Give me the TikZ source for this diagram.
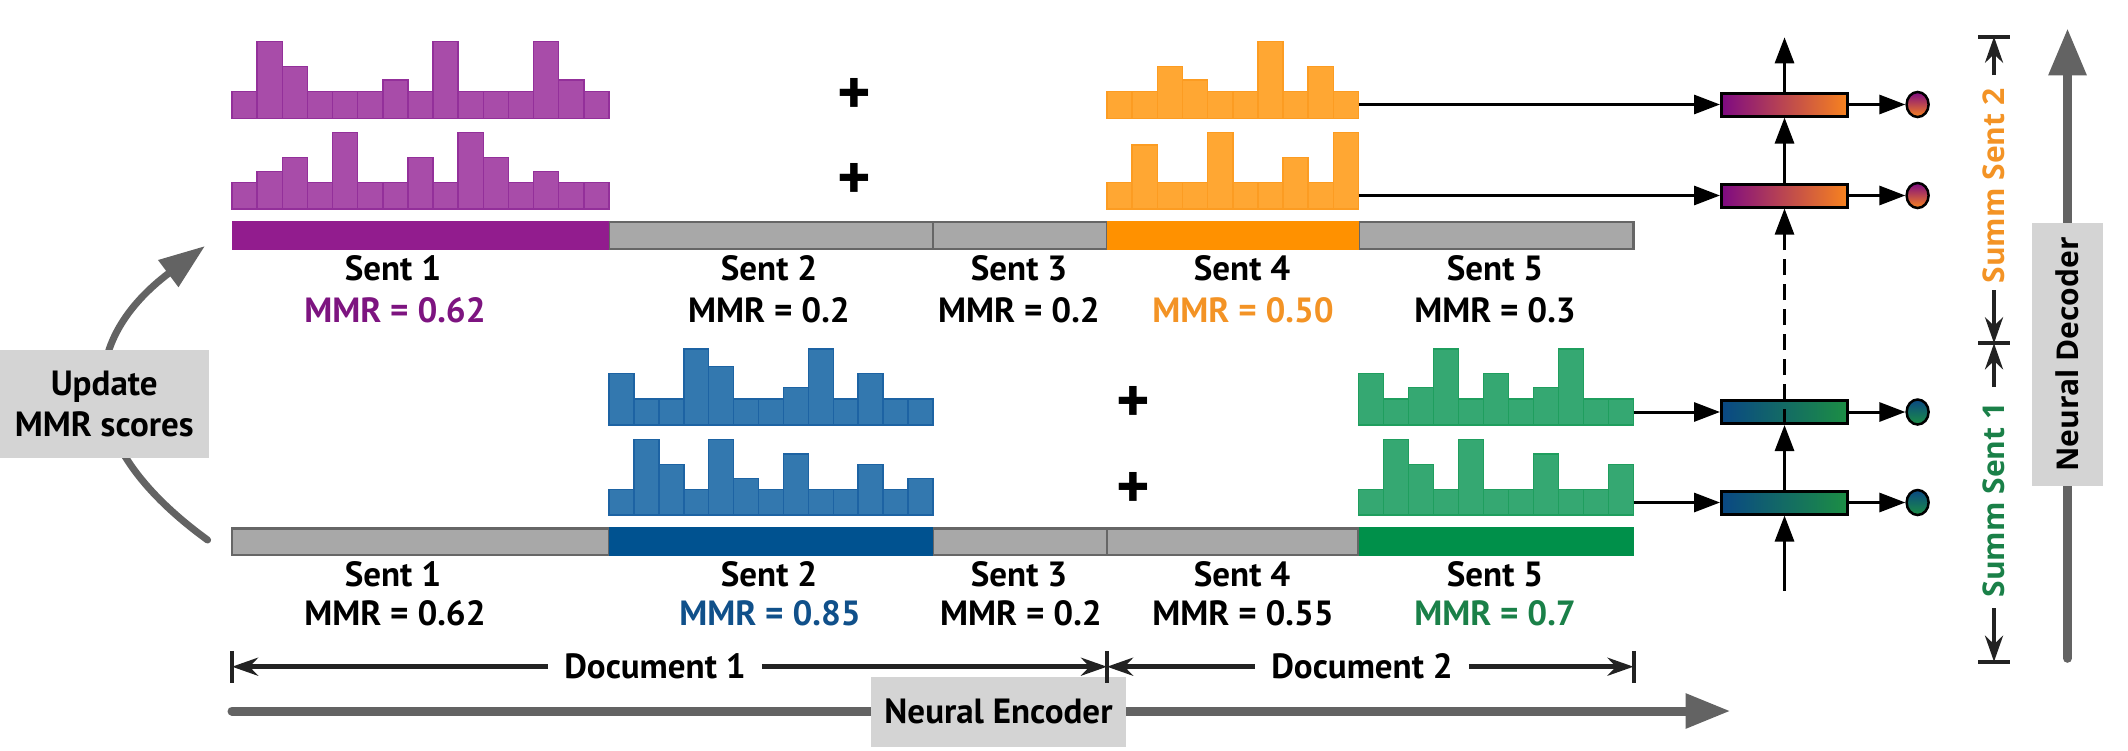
\documentclass[tikz,border=0pt]{standalone}
\usepackage{fontspec}
\setmainfont{PT Sans}
\newfontfamily\widef{Open Sans}
\usetikzlibrary{arrows.meta,shapes.geometric}
\definecolor{histP}{HTML}{A84CA9}
\definecolor{histPd}{HTML}{93309A}
\definecolor{barP}{HTML}{921C8E}
\definecolor{txtP}{HTML}{7D1480}
\definecolor{histO}{HTML}{FFA733}
\definecolor{histOd}{HTML}{FC9C22}
\definecolor{barO}{HTML}{FF9100}
\definecolor{txtO}{HTML}{F39325}
\definecolor{histB}{HTML}{3378AF}
\definecolor{histBd}{HTML}{1D63A3}
\definecolor{barB}{HTML}{005290}
\definecolor{txtB}{HTML}{10508A}
\definecolor{histG}{HTML}{35A872}
\definecolor{histGd}{HTML}{1F9E5E}
\definecolor{barG}{HTML}{00904A}
\definecolor{txtG}{HTML}{1A8048}
\definecolor{grayfill}{HTML}{A8A8A8}
\definecolor{grayline}{HTML}{666666}
\definecolor{boxgray}{HTML}{D4D4D4}
\definecolor{arrgray}{HTML}{636363}
\definecolor{decP}{HTML}{7E0A82}
\definecolor{decO}{HTML}{F8831E}
\definecolor{decB}{HTML}{0A4884}
\definecolor{decG}{HTML}{1C8E44}
\definecolor{darkline}{HTML}{222222}
\newcommand\drawhist[5]{%
  \foreach \h [count=\i from 0] in {#5} {%
    \draw[#4] ({#1+\i*#3},#2) rectangle ({#1+(\i+1)*#3},{#2-\h});
  }%
}
\begin{document}
\begin{tikzpicture}[x=1pt,y=-1pt,
  lbl/.style={font=\fontsize{35}{40}\selectfont\bfseries, inner sep=0pt},
  plus/.style={font=\fontsize{64}{64}\selectfont\bfseries, inner sep=0pt},
  summ/.style={font=\widef\fontsize{30}{36}\selectfont\bfseries, inner sep=0pt, rotate=90},
  graybox/.style={fill=boxgray, inner sep=0pt, align=center},
  hP/.style={fill=histP, draw=histPd, line width=1.5pt},
  hO/.style={fill=histO, draw=histOd, line width=1.5pt},
  hB/.style={fill=histB, draw=histBd, line width=1.5pt},
  hG/.style={fill=histG, draw=histGd, line width=1.5pt},
  graybar/.style={fill=grayfill, draw=grayline, line width=2.5pt},
  decbox/.style={draw=black, line width=3pt, minimum width=126pt, minimum height=23pt, inner sep=0pt},
  decdot/.style={ellipse, draw=black, line width=2.5pt, minimum width=22pt, minimum height=25pt, inner sep=0pt},
  arr/.style={line width=3pt, -{Triangle[length=26pt,width=19pt]}},
  dimarr/.style={line width=4pt, draw=darkline, -{Stealth[length=26pt,width=18pt]}},
  tickline/.style={line width=4pt, draw=darkline},
  garrow/.style={draw=arrgray, line cap=round},
]
\useasboundingbox (0,0) rectangle (2128,750);

% ---------- histograms, upper row ----------
\drawhist{232}{118.3}{25.133}{hP}{26.7,76.7,51.7,26.7,26.7,26.7,38.3,26.7,76.7,26.7,26.7,26.7,76.7,38.3,26.7}
\drawhist{232}{209}{25.133}{hP}{26.3,37.3,51.7,26.3,76.3,26.3,26.3,51.7,26.3,76.3,51.7,26.3,37.3,26.3,26.3}
\drawhist{1107}{118.3}{25.15}{hO}{26.7,26.7,51.7,38.3,26.7,26.7,76.7,26.7,51.7,26.7}
\drawhist{1107}{209}{25.15}{hO}{26.3,64,26.3,26.3,76.3,26.3,26.3,51.7,26.3,76.3}
% ---------- histograms, lower row ----------
\drawhist{609}{425}{24.923}{hB}{51.7,26,26,76,58.3,26,26,37.7,76,26,51.7,26,26}
\drawhist{609}{515}{24.923}{hB}{25.7,75.7,50.7,25.7,75.7,36.7,25.7,61,25.7,25.7,50.7,25.7,36.7}
\drawhist{1358.5}{425}{25}{hG}{51.7,26,37.7,76,26,51.7,26,37.7,76,26,26}
\drawhist{1358.5}{515}{25}{hG}{25.7,75.7,50.7,25.7,75.7,25.7,25.7,61,25.7,25.7,50.7}

% ---------- plus signs ----------
\node[plus] (p1) at (854,96.7) {+};
\node[plus] (p2) at (854,181.7) {+};
\node[plus] (p3) at (1133,404) {+};
\node[plus] (p4) at (1133,490.7) {+};

% ---------- sentence bars ----------
\draw[graybar] (609,222) rectangle (933,249);
\draw[graybar] (933,222) rectangle (1107,249);
\draw[graybar] (1358.5,222) rectangle (1633.5,249);
\fill[barP] (232,220.8) rectangle (609,250.2);
\fill[barO] (1107,220.8) rectangle (1358.5,250.2);

\draw[graybar] (232,528.3) rectangle (609,555);
\draw[graybar] (933,528.3) rectangle (1107,555);
\draw[graybar] (1107,528.3) rectangle (1358.5,555);
\fill[barB] (609,527.1) rectangle (933,556.2);
\fill[barG] (1358.5,527.1) rectangle (1633.5,556.2);

% ---------- labels ----------
\node[lbl] (su1) at (393,268) {Sent 1};
\node[lbl] (su2) at (769,268) {Sent 2};
\node[lbl] (su3) at (1019,268) {Sent 3};
\node[lbl] (su4) at (1242,268) {Sent 4};
\node[lbl] (su5) at (1495,268) {Sent 5};
\node[lbl, text=txtP] (mu1) at (395,310) {MMR = 0.62};
\node[lbl] (mu2) at (769,310) {MMR = 0.2};
\node[lbl] (mu3) at (1019,310) {MMR = 0.2};
\node[lbl, text=txtO] (mu4) at (1243,310) {MMR = 0.50};
\node[lbl] (mu5) at (1495,310) {MMR = 0.3};

\node[lbl] (sl1) at (393,574) {Sent 1};
\node[lbl] (sl2) at (769,574) {Sent 2};
\node[lbl] (sl3) at (1019,574) {Sent 3};
\node[lbl] (sl4) at (1242,574) {Sent 4};
\node[lbl] (sl5) at (1495,574) {Sent 5};
\node[lbl] (ml1) at (395,613) {MMR = 0.62};
\node[lbl, text=txtB] (ml2) at (770,613) {MMR = 0.85};
\node[lbl] (ml3) at (1021,613) {MMR = 0.2};
\node[lbl] (ml4) at (1243,613) {MMR = 0.55};
\node[lbl, text=txtG] (ml5) at (1495,613) {MMR = 0.7};

% ---------- update MMR loop ----------
\coordinate (cs) at (207.6,540);
\coordinate (ce) at (205,246);
\draw[garrow, line width=7pt, -{Triangle[length=46pt,width=32pt]}]
  (cs) .. controls (70,440) and (80,340) .. (ce);
\node[graybox, lbl, minimum width=208.5pt, minimum height=107.7pt,
      font=\fontsize{35}{41}\selectfont\bfseries] (upd) at (104.25,403.85) {Update\\MMR scores};

% ---------- neural encoder ----------
\coordinate (encS) at (232,711);
\coordinate (encE) at (1730.5,711);
\draw[garrow, line width=9pt, -{Triangle[length=45pt,width=33pt]}] (encS) -- (encE);
\node[graybox, lbl, minimum width=255pt, minimum height=70pt] (enc) at (998.5,711.7) {Neural Encoder};

% ---------- document spans ----------
\coordinate (dk0) at (232,666.7);
\coordinate (dk1) at (1107,666.7);
\coordinate (dk2) at (1633.5,666.7);
\foreach \k in {dk0,dk1,dk2} {
  \draw[tickline] ([yshift=15.8pt]\k) -- ([yshift=-15.8pt]\k);
}
\node[lbl, inner xsep=16pt] (doc1) at (655,666.7) {Document 1};
\node[lbl, inner xsep=16pt] (doc2) at (1362,666.7) {Document 2};
\draw[dimarr, line width=5pt] (doc1.west) -- (dk0);
\draw[dimarr, line width=5pt] (doc1.east) -- (dk1);
\draw[dimarr, line width=5pt] (doc2.west) -- (dk1);
\draw[dimarr, line width=5pt] (doc2.east) -- (dk2);

% ---------- decoder cells ----------
\coordinate (oT) at (1358.5,104.5);
\coordinate (oB) at (1358.5,195.5);
\coordinate (gT) at (1633.5,412);
\coordinate (gB) at (1633.5,502.5);
\node[decbox, left color=decP, right color=decO] (d1) at (1784.5,104.5) {};
\node[decbox, left color=decP, right color=decO] (d2) at (1784.5,195.5) {};
\node[decbox, left color=decB, right color=decG] (d3) at (1784.5,412) {};
\node[decbox, left color=decB, right color=decG] (d4) at (1784.5,502.5) {};
\node[decdot, top color=decP, bottom color=decO] (e1) at (1917.6,104.5) {};
\node[decdot, top color=decP, bottom color=decO] (e2) at (1917.6,195.5) {};
\node[decdot, top color=decB, bottom color=decG] (e3) at (1917.6,412) {};
\node[decdot, top color=decB, bottom color=decG] (e4) at (1917.6,502.5) {};
\coordinate (topOut) at (1784.5,37.3);
\coordinate (botIn) at (1784.5,590.7);

\draw[arr] (oT) -- (d1.west);
\draw[arr] (oB) -- (d2.west);
\draw[arr] (gT) -- (d3.west);
\draw[arr] (gB) -- (d4.west);
\draw[arr] (d1.east) -- (e1.west);
\draw[arr] (d2.east) -- (e2.west);
\draw[arr] (d3.east) -- (e3.west);
\draw[arr] (d4.east) -- (e4.west);
\draw[arr] (d1.north) -- (topOut);
\draw[arr] (d2.north) -- (d1.south);
\draw[arr] (d4.north) -- (d3.south);
\draw[arr] (botIn) -- (d4.south);
\draw[arr, dash pattern=on 16pt off 9pt, line width=2.5pt] (d3.south) -- (d2.south);

% ---------- summary brackets ----------
\coordinate (t0) at (1994,36.7);
\coordinate (t1) at (1994,343.3);
\coordinate (t2) at (1994,661.7);
\foreach \k in {t0,t1,t2} {
  \draw[tickline] ([xshift=-16pt]\k) -- ([xshift=16pt]\k);
}
\node[summ, text=txtO] (ss2) at (1994,186) {Summ Sent 2};
\node[summ, text=txtG] (ss1) at (1994,500) {Summ Sent 1};
\coordinate (b0) at (1994,75);
\coordinate (b1) at (1994,290);
\coordinate (b2) at (1994,387);
\coordinate (b3) at (1994,608);
\draw[dimarr] (b0) -- (t0);
\draw[dimarr] (b1) -- (t1);
\draw[dimarr] (b2) -- (t1);
\draw[dimarr] (b3) -- (t2);

% ---------- neural decoder ----------
\coordinate (decS) at (2067.5,658.3);
\coordinate (decE) at (2067.5,28.3);
\draw[garrow, line width=9pt, -{Triangle[length=47pt,width=36pt]}] (decS) -- (decE);
\node[graybox, minimum width=71pt, minimum height=263.3pt] (dec) at (2067.5,354.4) {};
\node[summ, text=black] (dect) at (dec.center) {Neural Decoder};
\end{tikzpicture}
\end{document}
